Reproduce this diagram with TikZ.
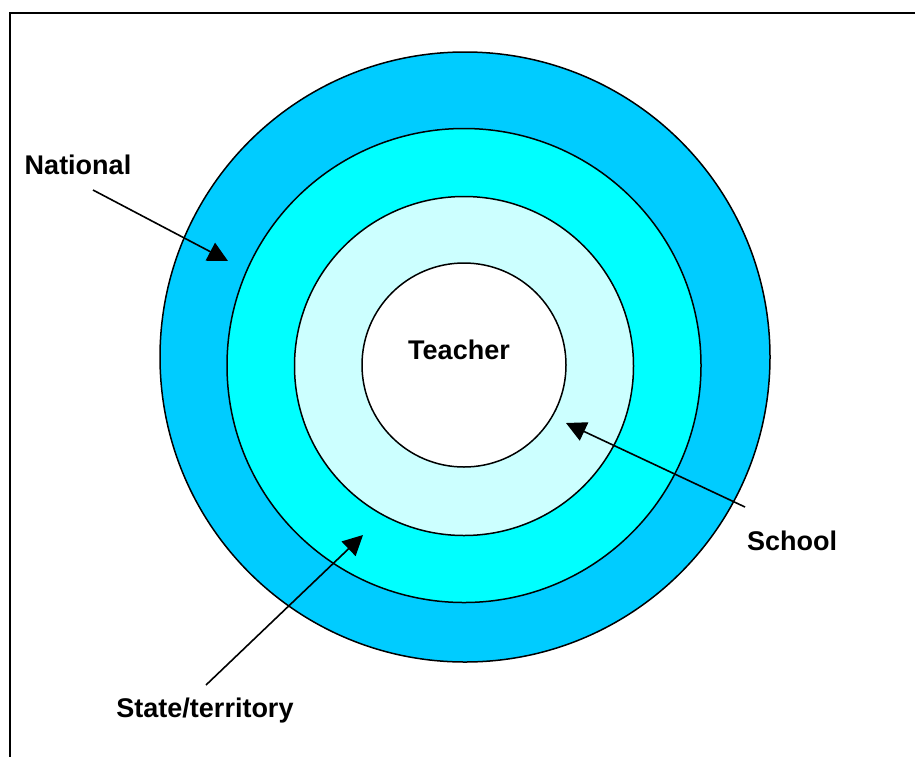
\documentclass[tikz,border=0pt]{standalone}
\usepackage{fontspec}
\setmainfont{Liberation Sans}
\usetikzlibrary{arrows.meta}
\definecolor{ringNational}{HTML}{00CCFF}
\definecolor{ringState}{HTML}{00FFFF}
\definecolor{ringSchool}{HTML}{CCFFFF}
\tikzset{
  ring/.style={draw=black, line width=1.5pt},
  lbl/.style={font=\fontsize{27}{32}\selectfont\bfseries, inner sep=0pt},
  pointer/.style={line width=1.6pt, -{Triangle[length=20pt,width=20pt]}},
}
\begin{document}
\begin{tikzpicture}[x=1pt,y=-1pt]
  \useasboundingbox (0,0) rectangle (915,756);
  \clip (0,0) rectangle (915,756);
  % page frame
  \draw[line width=2.2pt] (10,13) rectangle (930,770);
  % nested rings, outermost first
  \draw[ring, fill=ringNational] (465,357) circle (305);
  \draw[ring, fill=ringState] (464,365.5) circle (237);
  \draw[ring, fill=ringSchool] (464,366) circle (169.5);
  \draw[ring, fill=white] (464,365) circle (102);
  % labels
  \node[lbl] (teacher) at (459,350) {Teacher};
  \node[lbl] (national) at (78,165) {National};
  \node[lbl] (school) at (792,541) {School};
  \node[lbl] (state) at (205,711) {State/territory};
  % arrow ends
  \coordinate (nStart) at (93,190);
  \coordinate (nTip) at (228,261);
  \coordinate (sStart) at (745,507);
  \coordinate (sTip) at (566,423);
  \coordinate (tStart) at (206,685);
  \coordinate (tTip) at (363,535);
  \draw[pointer] (nStart) -- (nTip);
  \draw[pointer] (sStart) -- (sTip);
  \draw[pointer] (tStart) -- (tTip);
\end{tikzpicture}
\end{document}
